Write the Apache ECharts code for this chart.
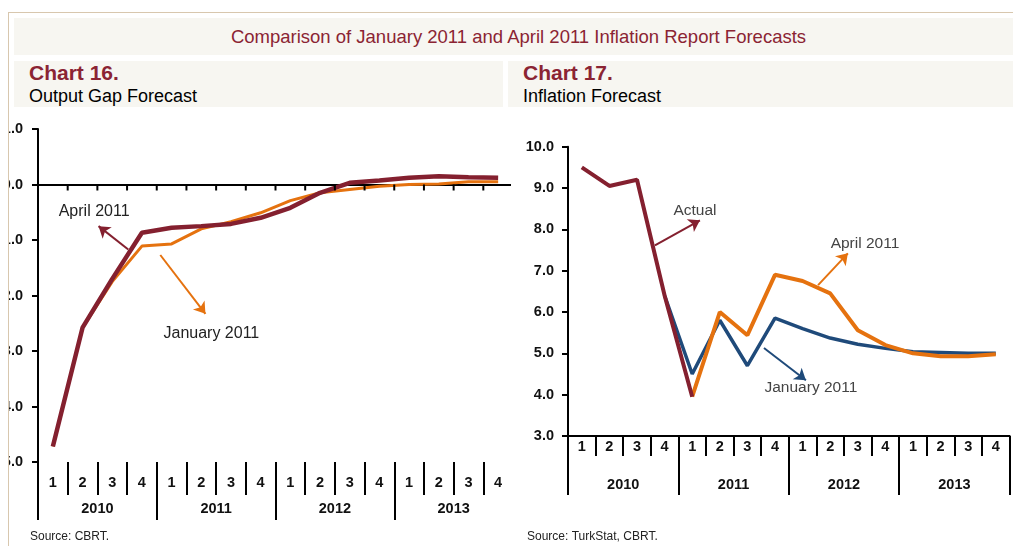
<!DOCTYPE html>
<html><head><meta charset="utf-8">
<script src="https://cdn.jsdelivr.net/npm/echarts@6/dist/echarts.min.js"></script>
<style>
body{margin:0;width:1013px;height:546px;overflow:hidden;background:#fff;font-family:'Liberation Sans',Arial,sans-serif;position:relative}
.abs{position:absolute}
.band{background:#f7f6f1}
.ct{position:absolute;left:15px;top:0px;font-weight:bold;font-size:21px;color:#8b2433;line-height:24px}
.cs{position:absolute;left:15px;top:25px;font-size:18px;color:#000;line-height:20px}
</style></head><body>
<div class="abs" style="left:8px;top:12px;width:1005px;height:1px;background:#d8c7ae"></div>
<div class="abs" style="left:8px;top:12px;width:1px;height:534px;background:#d8c7ae"></div>
<div class="abs band" style="left:14px;top:18px;width:999px;height:37px;color:#8b2433;font-size:18.5px;line-height:37px;text-align:center;padding-left:10px;box-sizing:border-box">Comparison of January 2011 and April 2011 Inflation Report Forecasts</div>
<div class="abs band" style="left:14px;top:61px;width:489px;height:46px"><div class="ct">Chart 16.</div><div class="cs">Output Gap Forecast</div></div>
<div class="abs band" style="left:508px;top:61px;width:505px;height:46px"><div class="ct">Chart 17.</div><div class="cs">Inflation Forecast</div></div>
<div id="c1" class="abs" style="left:9px;top:110px;width:502px;height:436px"></div>
<div id="c2" class="abs" style="left:505px;top:110px;width:508px;height:436px"></div>
<script>
// ---- data ----
const years = ['2010', '2011', '2012', '2013'];
const quarterLabels = ['1', '2', '3', '4'];
// Chart 16: output gap (%)
const gapApril2011 = [-4.72, -2.58, -1.70, -0.87, -0.78, -0.75, -0.71, -0.60, -0.42, -0.15, 0.03, 0.07, 0.12, 0.15, 0.13, 0.12];
const gapJanuary2011 = [-4.72, -2.58, -1.75, -1.11, -1.07, -0.80, -0.67, -0.51, -0.29, -0.15, -0.09, -0.03, 0.00, 0.01, 0.05, 0.05];
const gapTicks = [-5, -4, -3, -2, -1, 0, 1];
// Chart 17: inflation (%)
const inflActual = [9.50, 9.05, 9.20, 6.40, 3.95, null, null, null, null, null, null, null, null, null, null, null];
const inflJanuary2011 = [null, null, null, 6.40, 4.50, 5.80, 4.70, 5.85, 5.60, 5.37, 5.22, 5.12, 5.04, 5.02, 5.00, 5.00];
const inflApril2011 = [null, null, null, null, 3.95, 6.00, 5.44, 6.90, 6.75, 6.45, 5.56, 5.20, 5.00, 4.93, 4.93, 4.98];
const inflTicks = [3, 4, 5, 6, 7, 8, 9, 10];
const sources = ['Source: CBRT.', 'Source: TurkStat, CBRT.'];

const categories = [];
years.forEach(y => quarterLabels.forEach(q => categories.push(y + ' Q' + q)));

const MAROON = '#84202f', ORANGE = '#e5720f', BLUE = '#1f4a7a';
const FONT = "'Liberation Sans', Arial, sans-serif";
const qFmt = (v, i) => quarterLabels[i % 4];
const TICKFONT = {fontFamily: FONT, fontWeight: 'bold', fontSize: 14.5, color: '#111'};

function bottomAxes(mainLine, qTickLen, qMargin, yTickLen, yMargin, showQ) {
  return [
    mainLine,
    {type: 'category', data: categories, position: 'bottom', gridIndex: 0,
     axisLine: {show: false, onZero: false},
     axisTick: {show: showQ, interval: 0, length: qTickLen, lineStyle: {color: '#000', width: 2}},
     axisLabel: Object.assign({show: showQ, margin: qMargin, formatter: qFmt, interval: 0}, TICKFONT)},
    {type: 'category', data: years, position: 'bottom', gridIndex: 0,
     axisLine: {show: false, onZero: false},
     axisTick: {show: true, interval: 0, length: yTickLen, lineStyle: {color: '#000', width: 2}},
     axisLabel: Object.assign({margin: yMargin, interval: 0}, TICKFONT)},
    {type: 'value', min: 0, max: 16, show: false, gridIndex: 0}
  ];
}

function annot(items, color, textColor, fs) {
  return {
    type: 'line', xAxisIndex: 3, yAxisIndex: 0, data: [], silent: true,
    markLine: {
      silent: true, animation: false, symbol: ['none', 'arrow'], symbolSize: 11,
      lineStyle: {color: color, width: 2, type: 'solid'}, label: {show: false},
      data: items.arrows.map(a => [{coord: a[0]}, {coord: a[1]}])
    },
    markPoint: {
      silent: true, animation: false, symbol: 'circle', symbolSize: 0,
      label: {show: true, position: 'inside', formatter: '{b}', color: textColor, fontFamily: FONT, fontSize: fs},
      data: items.texts.map(t => ({name: t[0], coord: t[1]}))
    }
  };
}

// tick marks hanging below the zero line at each quarter boundary (drawn through the axis scale)
const zeroTicks = {
  type: 'custom', xAxisIndex: 0, yAxisIndex: 0, silent: true, z: 5,
  data: categories.map((c, i) => [i, 0]),
  renderItem: function (params, api) {
    const i = api.value(0);
    if (i === 0) return null;
    const p = api.coord([i, api.value(1)]);
    const w = api.size([1, 0])[0];
    const x = p[0] - w / 2;
    return {type: 'line', shape: {x1: x, y1: p[1], x2: x, y2: p[1] + 6}, style: {stroke: '#000', lineWidth: 2}};
  }
};

// ---------- Chart 16 ----------
const c1 = echarts.init(document.getElementById('c1'), null, {renderer: 'canvas'});
c1.setOption({
  animation: false,
  grid: {left: 29, top: 19, width: 475, height: 333, containLabel: false, outerBoundsMode: 'none'},
  xAxis: bottomAxes(
    {type: 'category', data: categories, position: 'bottom', gridIndex: 0,
     axisLine: {show: true, onZero: true, lineStyle: {color: '#000', width: 2}},
     axisTick: {show: false},
     axisLabel: {show: false}},
    33, 13, 58, 39, true),
  yAxis: {type: 'value', min: gapTicks[0], max: gapTicks[gapTicks.length - 1], interval: 1,
    axisLine: {show: true, onZero: false, lineStyle: {color: '#000', width: 2}},
    axisTick: {show: true, length: 6, lineStyle: {color: '#000', width: 2}},
    axisLabel: Object.assign({margin: 15, formatter: v => v.toFixed(1)}, TICKFONT),
    splitLine: {show: false}},
  graphic: [{type: 'text', left: 21, top: 421, style: {text: sources[0], fontFamily: FONT, fontSize: 12, fill: '#222'}}],
  series: [
    zeroTicks,
    {name: 'January 2011', type: 'line', data: gapJanuary2011, symbol: 'none', lineStyle: {color: ORANGE, width: 3}, itemStyle: {color: ORANGE}},
    {name: 'April 2011', type: 'line', data: gapApril2011, symbol: 'none', lineStyle: {color: MAROON, width: 4.5}, itemStyle: {color: MAROON}},
    annot({arrows: [[[3.04, -1.17], [2.04, -0.75]]], texts: [['April 2011', [1.89, -0.48]]]}, MAROON, '#222', 16),
    annot({arrows: [[[4.12, -1.27], [5.64, -2.33]]], texts: [['January 2011', [5.84, -2.68]]]}, ORANGE, '#222', 16)
  ]
});

// ---------- Chart 17 ----------
const c2 = echarts.init(document.getElementById('c2'), null, {renderer: 'canvas'});
c2.setOption({
  animation: false,
  grid: {left: 63, top: 36.7, width: 441.6, height: 289.3, containLabel: false, outerBoundsMode: 'none'},
  xAxis: bottomAxes(
    {type: 'category', data: categories, position: 'bottom', gridIndex: 0,
     axisLine: {show: true, onZero: false, lineStyle: {color: '#000', width: 2}},
     axisTick: {show: true, interval: 0, length: 20, lineStyle: {color: '#000', width: 2}},
     axisLabel: Object.assign({show: true, margin: 3, formatter: qFmt, interval: 0}, TICKFONT)},
    0, 4, 59, 41, false),
  yAxis: {type: 'value', min: inflTicks[0], max: inflTicks[inflTicks.length - 1], interval: 1,
    axisLine: {show: true, onZero: false, lineStyle: {color: '#000', width: 2}},
    axisTick: {show: true, length: 6, lineStyle: {color: '#000', width: 2}},
    axisLabel: Object.assign({margin: 14, formatter: v => v.toFixed(1)}, TICKFONT),
    splitLine: {show: false}},
  graphic: [{type: 'text', left: 22, top: 421, style: {text: sources[1], fontFamily: FONT, fontSize: 12, fill: '#222'}}],
  series: [
    {name: 'January 2011', type: 'line', data: inflJanuary2011, symbol: 'none', lineStyle: {color: BLUE, width: 3.5}, itemStyle: {color: BLUE}},
    {name: 'April 2011', type: 'line', data: inflApril2011, symbol: 'none', lineStyle: {color: ORANGE, width: 4}, itemStyle: {color: ORANGE}},
    {name: 'Actual', type: 'line', data: inflActual, symbol: 'none', lineStyle: {color: MAROON, width: 4}, itemStyle: {color: MAROON}},
    annot({arrows: [[[3.15, 7.61], [4.78, 8.22]]], texts: [['Actual', [4.60, 8.46]]]}, MAROON, '#444', 15.5),
    annot({arrows: [[[9.06, 6.65], [10.14, 7.42]]], texts: [['April 2011', [10.76, 7.66]]]}, ORANGE, '#444', 15.5),
    annot({arrows: [[[7.10, 5.13], [8.62, 4.35]]], texts: [['January 2011', [8.80, 4.16]]]}, BLUE, '#444', 15.5)
  ]
});
</script>
</body></html>
